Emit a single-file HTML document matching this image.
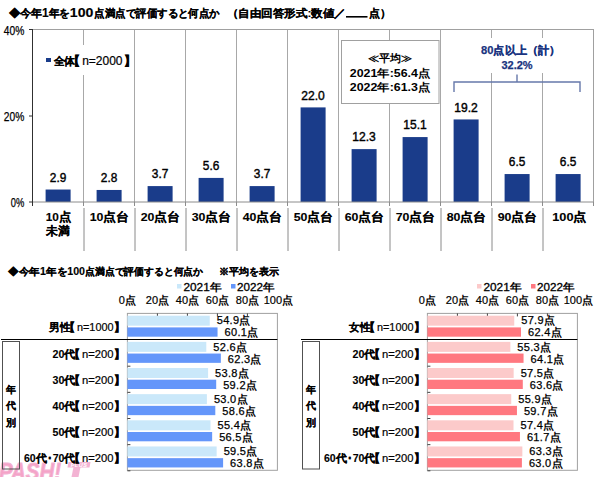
<!DOCTYPE html>
<html lang="ja"><head><meta charset="utf-8">
<style>
html,body{margin:0;padding:0;background:#fff;width:600px;height:477px;overflow:hidden}
svg{display:block;font-family:"Liberation Sans",sans-serif}
text{fill:#000}
.t{font-size:11px;font-weight:bold;stroke:#000;stroke-width:0.12px}
.v{font-size:12.5px;text-anchor:middle;stroke:#000;stroke-width:0.4px}
.c{font-size:11.5px;font-weight:bold;stroke:#000;stroke-width:0.12px;text-anchor:middle}
.ya{font-size:12.5px;stroke:#000;stroke-width:0.25px}
.lg{font-size:11px;font-weight:bold;stroke:#000;stroke-width:0.12px}
.nn{stroke:#000;stroke-width:0.2px}
.bk{font-weight:bold;stroke:#000;stroke-width:0.6px}
.br2{font-size:10.5px;stroke:#000;stroke-width:0.35px}
.av{font-size:11px;font-weight:bold;text-anchor:middle}
.bl{font-size:11px;font-weight:bold;text-anchor:middle;fill:#1a3480;stroke:#1a3480;stroke-width:0.25px}
.ax{font-size:11px;text-anchor:middle;stroke:#000;stroke-width:0.2px}
.pt{font-size:10.5px;font-weight:bold;stroke-width:0;letter-spacing:0}
.lg2{font-size:11px;stroke:#000;stroke-width:0.3px}
.bv{font-size:11px;stroke:#000;stroke-width:0.25px;letter-spacing:0.3px}
.rl{font-size:10.5px;font-weight:bold;stroke:#000;stroke-width:0.12px;text-anchor:end}
.ag{font-size:10px;font-weight:bold;stroke:#000;stroke-width:0.12px;text-anchor:middle}
.wm{font-style:italic;font-weight:bold;fill:#f5a3c7}
</style></head><body>
<svg width="600" height="477" viewBox="0 0 600 477">
<g fill="#f3b3d3">
<text x="-1" y="480" class="wm" style="font-size:24px;stroke:#f3b3d3;stroke-width:1px" textLength="62" lengthAdjust="spacingAndGlyphs">PASH!</text>
<path d="M68.5 462 H90.5 L89.5 467.5 H67.5 Z"/>
<path d="M73.5 467 H80.5 L78.5 477 H71.5 Z"/>
</g>
<text x="79" y="467" style="font-size:5.5px;font-weight:bold;font-style:italic;fill:#fff;text-anchor:middle;letter-spacing:0.5px">PLUS</text>
<text x="9" y="17" class="t" textLength="22.5" lengthAdjust="spacingAndGlyphs">◆今</text>
<text x="31" y="17" class="t">年</text>
<text x="42" y="17" class="t" style="font-size:12px">1</text>
<text x="48.5" y="17" class="t" textLength="21.5" lengthAdjust="spacingAndGlyphs">年を</text>
<text x="69.8" y="17" class="t" style="font-size:12px" textLength="23.5" lengthAdjust="spacingAndGlyphs">100</text>
<text x="94.3" y="17" class="t" textLength="125.5" lengthAdjust="spacingAndGlyphs">点満点で評価すると何点か</text>
<text x="226.5" y="17" class="t" textLength="119.5" lengthAdjust="spacingAndGlyphs">（自由回答形式:数値／</text>
<rect x="346" y="16" width="21.5" height="1.6" fill="#000"/>
<text x="368.5" y="17" class="t">点）</text>
<line x1="83.5" y1="30" x2="83.5" y2="202" stroke="#a8a8a8"/>
<line x1="84.0" y1="208" x2="84.0" y2="251" stroke="#8a8a8a"/>
<line x1="134.5" y1="30" x2="134.5" y2="202" stroke="#a8a8a8"/>
<line x1="135.0" y1="208" x2="135.0" y2="251" stroke="#8a8a8a"/>
<line x1="185.5" y1="30" x2="185.5" y2="202" stroke="#a8a8a8"/>
<line x1="186.0" y1="208" x2="186.0" y2="251" stroke="#8a8a8a"/>
<line x1="236.5" y1="30" x2="236.5" y2="202" stroke="#a8a8a8"/>
<line x1="237.0" y1="208" x2="237.0" y2="251" stroke="#8a8a8a"/>
<line x1="287.5" y1="30" x2="287.5" y2="202" stroke="#a8a8a8"/>
<line x1="288.0" y1="208" x2="288.0" y2="251" stroke="#8a8a8a"/>
<line x1="338.5" y1="30" x2="338.5" y2="202" stroke="#a8a8a8"/>
<line x1="339.0" y1="208" x2="339.0" y2="251" stroke="#8a8a8a"/>
<line x1="389.5" y1="30" x2="389.5" y2="202" stroke="#a8a8a8"/>
<line x1="390.0" y1="208" x2="390.0" y2="251" stroke="#8a8a8a"/>
<line x1="440.5" y1="30" x2="440.5" y2="202" stroke="#a8a8a8"/>
<line x1="441.0" y1="208" x2="441.0" y2="251" stroke="#8a8a8a"/>
<line x1="491.5" y1="30" x2="491.5" y2="202" stroke="#a8a8a8"/>
<line x1="492.0" y1="208" x2="492.0" y2="251" stroke="#8a8a8a"/>
<line x1="542.5" y1="30" x2="542.5" y2="202" stroke="#a8a8a8"/>
<line x1="543.0" y1="208" x2="543.0" y2="251" stroke="#8a8a8a"/>
<line x1="32" y1="29.5" x2="593.5" y2="29.5" stroke="#a0a0a0"/>
<line x1="593.5" y1="29" x2="593.5" y2="206" stroke="#a0a0a0"/>
<rect x="45.6" y="189.53" width="25" height="12.47" fill="#1a3c8a"/>
<text x="58.1" y="181.73" class="v" textLength="16.5" lengthAdjust="spacingAndGlyphs">2.9</text>
<text x="58.5" y="221" class="c" textLength="25.5" lengthAdjust="spacingAndGlyphs">10点</text>
<text x="58" y="235" class="c" textLength="23.5" lengthAdjust="spacingAndGlyphs">未満</text>
<rect x="96.6" y="189.96" width="25" height="12.04" fill="#1a3c8a"/>
<text x="109.1" y="182.16" class="v" textLength="16.5" lengthAdjust="spacingAndGlyphs">2.8</text>
<text x="109.5" y="221" class="c" textLength="39.5" lengthAdjust="spacingAndGlyphs">10点台</text>
<rect x="147.6" y="186.09" width="25" height="15.91" fill="#1a3c8a"/>
<text x="160.1" y="178.29" class="v" textLength="16.5" lengthAdjust="spacingAndGlyphs">3.7</text>
<text x="160.5" y="221" class="c" textLength="39.5" lengthAdjust="spacingAndGlyphs">20点台</text>
<rect x="198.6" y="177.92" width="25" height="24.08" fill="#1a3c8a"/>
<text x="211.1" y="170.12" class="v" textLength="16.5" lengthAdjust="spacingAndGlyphs">5.6</text>
<text x="211.5" y="221" class="c" textLength="39.5" lengthAdjust="spacingAndGlyphs">30点台</text>
<rect x="249.6" y="186.09" width="25" height="15.91" fill="#1a3c8a"/>
<text x="262.1" y="178.29" class="v" textLength="16.5" lengthAdjust="spacingAndGlyphs">3.7</text>
<text x="262.5" y="221" class="c" textLength="39.5" lengthAdjust="spacingAndGlyphs">40点台</text>
<rect x="300.6" y="107.40" width="25" height="94.60" fill="#1a3c8a"/>
<text x="313.1" y="99.60" class="v" textLength="23.5" lengthAdjust="spacingAndGlyphs">22.0</text>
<text x="313.5" y="221" class="c" textLength="39.5" lengthAdjust="spacingAndGlyphs">50点台</text>
<rect x="351.6" y="149.11" width="25" height="52.89" fill="#1a3c8a"/>
<text x="364.1" y="141.31" class="v" textLength="23.5" lengthAdjust="spacingAndGlyphs">12.3</text>
<text x="364.5" y="221" class="c" textLength="39.5" lengthAdjust="spacingAndGlyphs">60点台</text>
<rect x="402.6" y="137.07" width="25" height="64.93" fill="#1a3c8a"/>
<text x="415.1" y="129.27" class="v" textLength="23.5" lengthAdjust="spacingAndGlyphs">15.1</text>
<text x="415.5" y="221" class="c" textLength="39.5" lengthAdjust="spacingAndGlyphs">70点台</text>
<rect x="453.6" y="119.44" width="25" height="82.56" fill="#1a3c8a"/>
<text x="466.1" y="111.64" class="v" textLength="23.5" lengthAdjust="spacingAndGlyphs">19.2</text>
<text x="466.5" y="221" class="c" textLength="39.5" lengthAdjust="spacingAndGlyphs">80点台</text>
<rect x="504.6" y="174.05" width="25" height="27.95" fill="#1a3c8a"/>
<text x="517.1" y="166.25" class="v" textLength="16.5" lengthAdjust="spacingAndGlyphs">6.5</text>
<text x="517.5" y="221" class="c" textLength="39.5" lengthAdjust="spacingAndGlyphs">90点台</text>
<rect x="555.6" y="174.05" width="25" height="27.95" fill="#1a3c8a"/>
<text x="568.1" y="166.25" class="v" textLength="16.5" lengthAdjust="spacingAndGlyphs">6.5</text>
<text x="569.5" y="221" class="c" textLength="34.5" lengthAdjust="spacingAndGlyphs">100点</text>
<line x1="32" y1="202" x2="593.5" y2="202" stroke="#8c8c8c"/>
<line x1="32.5" y1="202" x2="32.5" y2="206" stroke="#8c8c8c"/>
<line x1="83.5" y1="202" x2="83.5" y2="206" stroke="#8c8c8c"/>
<line x1="134.5" y1="202" x2="134.5" y2="206" stroke="#8c8c8c"/>
<line x1="185.5" y1="202" x2="185.5" y2="206" stroke="#8c8c8c"/>
<line x1="236.5" y1="202" x2="236.5" y2="206" stroke="#8c8c8c"/>
<line x1="287.5" y1="202" x2="287.5" y2="206" stroke="#8c8c8c"/>
<line x1="338.5" y1="202" x2="338.5" y2="206" stroke="#8c8c8c"/>
<line x1="389.5" y1="202" x2="389.5" y2="206" stroke="#8c8c8c"/>
<line x1="440.5" y1="202" x2="440.5" y2="206" stroke="#8c8c8c"/>
<line x1="491.5" y1="202" x2="491.5" y2="206" stroke="#8c8c8c"/>
<line x1="542.5" y1="202" x2="542.5" y2="206" stroke="#8c8c8c"/>
<line x1="593.5" y1="202" x2="593.5" y2="206" stroke="#8c8c8c"/>
<line x1="32.5" y1="29" x2="32.5" y2="206" stroke="#303030"/>
<line x1="29" y1="29.5" x2="32" y2="29.5" stroke="#303030"/>
<line x1="29" y1="116" x2="32" y2="116" stroke="#303030"/>
<line x1="29" y1="202" x2="32" y2="202" stroke="#303030"/>
<text x="3.8000000000000007" y="35" class="ya" textLength="20.5" lengthAdjust="spacingAndGlyphs">40%</text>
<text x="3.8000000000000007" y="121" class="ya" textLength="20.5" lengthAdjust="spacingAndGlyphs">20%</text>
<text x="10.8" y="207" class="ya" textLength="13.5" lengthAdjust="spacingAndGlyphs">0%</text>
<rect x="40" y="45" width="92" height="30" fill="#fff"/>
<rect x="46" y="58" width="5" height="4" fill="#1a3c8a"/>
<text x="75.3" y="65" class="lg" text-anchor="end" textLength="21.8" lengthAdjust="spacingAndGlyphs">全体</text>
<text x="68.33" y="65.00" class="bk" style="font-size:11.5px">【</text>
<text x="82.20" y="65.00" class="nn" style="font-size:12px" textLength="40.30" lengthAdjust="spacingAndGlyphs">n=2000</text>
<text x="124.24" y="65.00" class="bk" style="font-size:11.5px">】</text>
<rect x="341.5" y="40.5" width="97.5" height="63" fill="#fff" stroke="#a0a0a0"/>
<text x="390" y="62" class="av">≪平均≫</text>
<text x="390" y="77" class="av" textLength="80.5" lengthAdjust="spacingAndGlyphs">2021年:56.4点</text>
<text x="390" y="91" class="av" textLength="80.5" lengthAdjust="spacingAndGlyphs">2022年:61.3点</text>
<rect x="470" y="38" width="95" height="35" fill="#fff"/>
<text x="481" y="54" class="bl" style="text-anchor:start" textLength="79.5" lengthAdjust="spacingAndGlyphs">80点以上（計）</text>
<text x="517" y="68.5" class="bl">32.2%</text>
<path d="M454 92 V82 H580 V92 M517 82 V74.5" fill="none" stroke="#6678aa" stroke-width="1.4"/>
<text x="8" y="275" class="t" style="font-size:10px" textLength="77" lengthAdjust="spacingAndGlyphs">◆今年1年を100</text>
<text x="85" y="275" class="t" style="font-size:10px" textLength="118" lengthAdjust="spacingAndGlyphs">点満点で評価すると何点か</text>
<text x="219" y="275" class="t" style="font-size:10px">※平均を表示</text>
<text x="127.4" y="303.6" class="ax">0<tspan class="pt">点</tspan></text>
<text x="157.4" y="303.6" class="ax">20<tspan class="pt">点</tspan></text>
<text x="187.4" y="303.6" class="ax">40<tspan class="pt">点</tspan></text>
<text x="217.4" y="303.6" class="ax">60<tspan class="pt">点</tspan></text>
<text x="247.4" y="303.6" class="ax">80<tspan class="pt">点</tspan></text>
<text x="278.4" y="303.6" class="ax">100<tspan class="pt">点</tspan></text>
<rect x="177" y="284" width="4.5" height="4.5" fill="#cae8fa"/>
<text x="183.5" y="290.5" class="lg2" textLength="38" lengthAdjust="spacingAndGlyphs">2021<tspan class="pt">年</tspan></text>
<rect x="231" y="284" width="4.5" height="4.5" fill="#6496fa"/>
<text x="237" y="290.5" class="lg2" textLength="37.5" lengthAdjust="spacingAndGlyphs">2022<tspan class="pt">年</tspan></text>
<rect x="127.4" y="313.4" width="150" height="156.90" fill="#fff" stroke="#a0a0a0" stroke-width="1"/>
<line x1="157.4" y1="313.4" x2="157.4" y2="316.4" stroke="#404040"/>
<line x1="187.4" y1="313.4" x2="187.4" y2="316.4" stroke="#404040"/>
<line x1="217.4" y1="313.4" x2="217.4" y2="316.4" stroke="#404040"/>
<line x1="247.4" y1="313.4" x2="247.4" y2="316.4" stroke="#404040"/>
<rect x="127.4" y="315.70" width="82.35" height="10" fill="#cae8fa"/>
<rect x="127.4" y="327.40" width="90.15" height="9.3" fill="#6496fa"/>
<text x="216.75" y="324.40" class="bv">54.9<tspan class="pt">点</tspan></text>
<text x="224.55" y="336.40" class="bv">60.1<tspan class="pt">点</tspan></text>
<text x="70.5" y="331.40" class="rl" textLength="21.5" lengthAdjust="spacingAndGlyphs">男性</text>
<text x="64.00" y="331.40" class="bk" style="font-size:10.5px">【</text>
<text x="77.00" y="331.40" class="nn" style="font-size:11px" textLength="36.50" lengthAdjust="spacingAndGlyphs">n=1000</text>
<text x="113.50" y="331.40" class="bk" style="font-size:10.5px">】</text>
<rect x="127.4" y="341.85" width="78.90" height="10" fill="#cae8fa"/>
<rect x="127.4" y="353.55" width="93.45" height="9.3" fill="#6496fa"/>
<text x="213.30" y="350.55" class="bv">52.6<tspan class="pt">点</tspan></text>
<text x="227.85" y="362.55" class="bv">62.3<tspan class="pt">点</tspan></text>
<text x="75.5" y="357.55" class="rl" textLength="23" lengthAdjust="spacingAndGlyphs">20代</text>
<text x="69.00" y="357.55" class="bk" style="font-size:10.5px">【</text>
<text x="82.00" y="357.55" class="nn" style="font-size:11px" textLength="31.50" lengthAdjust="spacingAndGlyphs">n=200</text>
<text x="113.50" y="357.55" class="bk" style="font-size:10.5px">】</text>
<line x1="127.4" y1="366.20" x2="130.4" y2="366.20" stroke="#404040"/>
<rect x="127.4" y="368.00" width="80.70" height="10" fill="#cae8fa"/>
<rect x="127.4" y="379.70" width="88.80" height="9.3" fill="#6496fa"/>
<text x="215.10" y="376.70" class="bv">53.8<tspan class="pt">点</tspan></text>
<text x="223.20" y="388.70" class="bv">59.2<tspan class="pt">点</tspan></text>
<text x="75.5" y="383.70" class="rl" textLength="23" lengthAdjust="spacingAndGlyphs">30代</text>
<text x="69.00" y="383.70" class="bk" style="font-size:10.5px">【</text>
<text x="82.00" y="383.70" class="nn" style="font-size:11px" textLength="31.50" lengthAdjust="spacingAndGlyphs">n=200</text>
<text x="113.50" y="383.70" class="bk" style="font-size:10.5px">】</text>
<line x1="127.4" y1="392.35" x2="130.4" y2="392.35" stroke="#404040"/>
<rect x="127.4" y="394.15" width="79.50" height="10" fill="#cae8fa"/>
<rect x="127.4" y="405.85" width="87.90" height="9.3" fill="#6496fa"/>
<text x="213.90" y="402.85" class="bv">53.0<tspan class="pt">点</tspan></text>
<text x="222.30" y="414.85" class="bv">58.6<tspan class="pt">点</tspan></text>
<text x="75.5" y="409.85" class="rl" textLength="23" lengthAdjust="spacingAndGlyphs">40代</text>
<text x="69.00" y="409.85" class="bk" style="font-size:10.5px">【</text>
<text x="82.00" y="409.85" class="nn" style="font-size:11px" textLength="31.50" lengthAdjust="spacingAndGlyphs">n=200</text>
<text x="113.50" y="409.85" class="bk" style="font-size:10.5px">】</text>
<line x1="127.4" y1="418.50" x2="130.4" y2="418.50" stroke="#404040"/>
<rect x="127.4" y="420.30" width="83.10" height="10" fill="#cae8fa"/>
<rect x="127.4" y="432.00" width="84.75" height="9.3" fill="#6496fa"/>
<text x="217.50" y="429.00" class="bv">55.4<tspan class="pt">点</tspan></text>
<text x="219.15" y="441.00" class="bv">56.5<tspan class="pt">点</tspan></text>
<text x="75.5" y="436.00" class="rl" textLength="23" lengthAdjust="spacingAndGlyphs">50代</text>
<text x="69.00" y="436.00" class="bk" style="font-size:10.5px">【</text>
<text x="82.00" y="436.00" class="nn" style="font-size:11px" textLength="31.50" lengthAdjust="spacingAndGlyphs">n=200</text>
<text x="113.50" y="436.00" class="bk" style="font-size:10.5px">】</text>
<line x1="127.4" y1="444.65" x2="130.4" y2="444.65" stroke="#404040"/>
<rect x="127.4" y="446.45" width="89.25" height="10" fill="#cae8fa"/>
<rect x="127.4" y="458.15" width="95.70" height="9.3" fill="#6496fa"/>
<text x="223.65" y="455.15" class="bv">59.5<tspan class="pt">点</tspan></text>
<text x="230.10" y="467.15" class="bv">63.8<tspan class="pt">点</tspan></text>
<text x="75.5" y="462.15" class="rl" textLength="51.5" lengthAdjust="spacingAndGlyphs">60代･70代</text>
<text x="69.00" y="462.15" class="bk" style="font-size:10.5px">【</text>
<text x="82.00" y="462.15" class="nn" style="font-size:11px" textLength="31.50" lengthAdjust="spacingAndGlyphs">n=200</text>
<text x="113.50" y="462.15" class="bk" style="font-size:10.5px">】</text>
<line x1="127.4" y1="470.80" x2="130.4" y2="470.80" stroke="#404040"/>
<line x1="1" y1="339.5" x2="277.4" y2="339.5" stroke="#000" stroke-width="1.2"/>
<rect x="2.5" y="341.5" width="17" height="127.5" fill="none" stroke="#505050"/>
<text x="11" y="393.00" class="ag">年</text>
<text x="11" y="409.40" class="ag">代</text>
<text x="11" y="425.80" class="ag">別</text><text x="427.4" y="303.6" class="ax">0<tspan class="pt">点</tspan></text>
<text x="457.4" y="303.6" class="ax">20<tspan class="pt">点</tspan></text>
<text x="487.4" y="303.6" class="ax">40<tspan class="pt">点</tspan></text>
<text x="517.4" y="303.6" class="ax">60<tspan class="pt">点</tspan></text>
<text x="547.4" y="303.6" class="ax">80<tspan class="pt">点</tspan></text>
<text x="578.4" y="303.6" class="ax">100<tspan class="pt">点</tspan></text>
<rect x="477" y="284" width="4.5" height="4.5" fill="#fccaca"/>
<text x="483.5" y="290.5" class="lg2" textLength="38" lengthAdjust="spacingAndGlyphs">2021<tspan class="pt">年</tspan></text>
<rect x="531" y="284" width="4.5" height="4.5" fill="#ff7880"/>
<text x="537" y="290.5" class="lg2" textLength="37.5" lengthAdjust="spacingAndGlyphs">2022<tspan class="pt">年</tspan></text>
<rect x="427.4" y="313.4" width="150" height="156.90" fill="#fff" stroke="#a0a0a0" stroke-width="1"/>
<line x1="457.4" y1="313.4" x2="457.4" y2="316.4" stroke="#404040"/>
<line x1="487.4" y1="313.4" x2="487.4" y2="316.4" stroke="#404040"/>
<line x1="517.4" y1="313.4" x2="517.4" y2="316.4" stroke="#404040"/>
<line x1="547.4" y1="313.4" x2="547.4" y2="316.4" stroke="#404040"/>
<rect x="427.4" y="315.70" width="86.85" height="10" fill="#fccaca"/>
<rect x="427.4" y="327.40" width="93.60" height="9.3" fill="#ff7880"/>
<text x="521.25" y="324.40" class="bv">57.9<tspan class="pt">点</tspan></text>
<text x="528.00" y="336.40" class="bv">62.4<tspan class="pt">点</tspan></text>
<text x="370.5" y="331.40" class="rl" textLength="21.5" lengthAdjust="spacingAndGlyphs">女性</text>
<text x="364.00" y="331.40" class="bk" style="font-size:10.5px">【</text>
<text x="377.00" y="331.40" class="nn" style="font-size:11px" textLength="36.50" lengthAdjust="spacingAndGlyphs">n=1000</text>
<text x="413.50" y="331.40" class="bk" style="font-size:10.5px">】</text>
<rect x="427.4" y="341.85" width="82.95" height="10" fill="#fccaca"/>
<rect x="427.4" y="353.55" width="96.15" height="9.3" fill="#ff7880"/>
<text x="517.35" y="350.55" class="bv">55.3<tspan class="pt">点</tspan></text>
<text x="530.55" y="362.55" class="bv">64.1<tspan class="pt">点</tspan></text>
<text x="375.5" y="357.55" class="rl" textLength="23" lengthAdjust="spacingAndGlyphs">20代</text>
<text x="369.00" y="357.55" class="bk" style="font-size:10.5px">【</text>
<text x="382.00" y="357.55" class="nn" style="font-size:11px" textLength="31.50" lengthAdjust="spacingAndGlyphs">n=200</text>
<text x="413.50" y="357.55" class="bk" style="font-size:10.5px">】</text>
<line x1="427.4" y1="366.20" x2="430.4" y2="366.20" stroke="#404040"/>
<rect x="427.4" y="368.00" width="86.25" height="10" fill="#fccaca"/>
<rect x="427.4" y="379.70" width="95.40" height="9.3" fill="#ff7880"/>
<text x="520.65" y="376.70" class="bv">57.5<tspan class="pt">点</tspan></text>
<text x="529.80" y="388.70" class="bv">63.6<tspan class="pt">点</tspan></text>
<text x="375.5" y="383.70" class="rl" textLength="23" lengthAdjust="spacingAndGlyphs">30代</text>
<text x="369.00" y="383.70" class="bk" style="font-size:10.5px">【</text>
<text x="382.00" y="383.70" class="nn" style="font-size:11px" textLength="31.50" lengthAdjust="spacingAndGlyphs">n=200</text>
<text x="413.50" y="383.70" class="bk" style="font-size:10.5px">】</text>
<line x1="427.4" y1="392.35" x2="430.4" y2="392.35" stroke="#404040"/>
<rect x="427.4" y="394.15" width="83.85" height="10" fill="#fccaca"/>
<rect x="427.4" y="405.85" width="89.55" height="9.3" fill="#ff7880"/>
<text x="518.25" y="402.85" class="bv">55.9<tspan class="pt">点</tspan></text>
<text x="523.95" y="414.85" class="bv">59.7<tspan class="pt">点</tspan></text>
<text x="375.5" y="409.85" class="rl" textLength="23" lengthAdjust="spacingAndGlyphs">40代</text>
<text x="369.00" y="409.85" class="bk" style="font-size:10.5px">【</text>
<text x="382.00" y="409.85" class="nn" style="font-size:11px" textLength="31.50" lengthAdjust="spacingAndGlyphs">n=200</text>
<text x="413.50" y="409.85" class="bk" style="font-size:10.5px">】</text>
<line x1="427.4" y1="418.50" x2="430.4" y2="418.50" stroke="#404040"/>
<rect x="427.4" y="420.30" width="86.10" height="10" fill="#fccaca"/>
<rect x="427.4" y="432.00" width="92.55" height="9.3" fill="#ff7880"/>
<text x="520.50" y="429.00" class="bv">57.4<tspan class="pt">点</tspan></text>
<text x="526.95" y="441.00" class="bv">61.7<tspan class="pt">点</tspan></text>
<text x="375.5" y="436.00" class="rl" textLength="23" lengthAdjust="spacingAndGlyphs">50代</text>
<text x="369.00" y="436.00" class="bk" style="font-size:10.5px">【</text>
<text x="382.00" y="436.00" class="nn" style="font-size:11px" textLength="31.50" lengthAdjust="spacingAndGlyphs">n=200</text>
<text x="413.50" y="436.00" class="bk" style="font-size:10.5px">】</text>
<line x1="427.4" y1="444.65" x2="430.4" y2="444.65" stroke="#404040"/>
<rect x="427.4" y="446.45" width="94.95" height="10" fill="#fccaca"/>
<rect x="427.4" y="458.15" width="94.50" height="9.3" fill="#ff7880"/>
<text x="529.35" y="455.15" class="bv">63.3<tspan class="pt">点</tspan></text>
<text x="528.90" y="467.15" class="bv">63.0<tspan class="pt">点</tspan></text>
<text x="375.5" y="462.15" class="rl" textLength="51.5" lengthAdjust="spacingAndGlyphs">60代･70代</text>
<text x="369.00" y="462.15" class="bk" style="font-size:10.5px">【</text>
<text x="382.00" y="462.15" class="nn" style="font-size:11px" textLength="31.50" lengthAdjust="spacingAndGlyphs">n=200</text>
<text x="413.50" y="462.15" class="bk" style="font-size:10.5px">】</text>
<line x1="427.4" y1="470.80" x2="430.4" y2="470.80" stroke="#404040"/>
<line x1="301" y1="339.5" x2="577.4" y2="339.5" stroke="#000" stroke-width="1.2"/>
<rect x="302.5" y="341.5" width="17" height="127.5" fill="none" stroke="#505050"/>
<text x="311" y="393.00" class="ag">年</text>
<text x="311" y="409.40" class="ag">代</text>
<text x="311" y="425.80" class="ag">別</text>
</svg>
</body></html>
